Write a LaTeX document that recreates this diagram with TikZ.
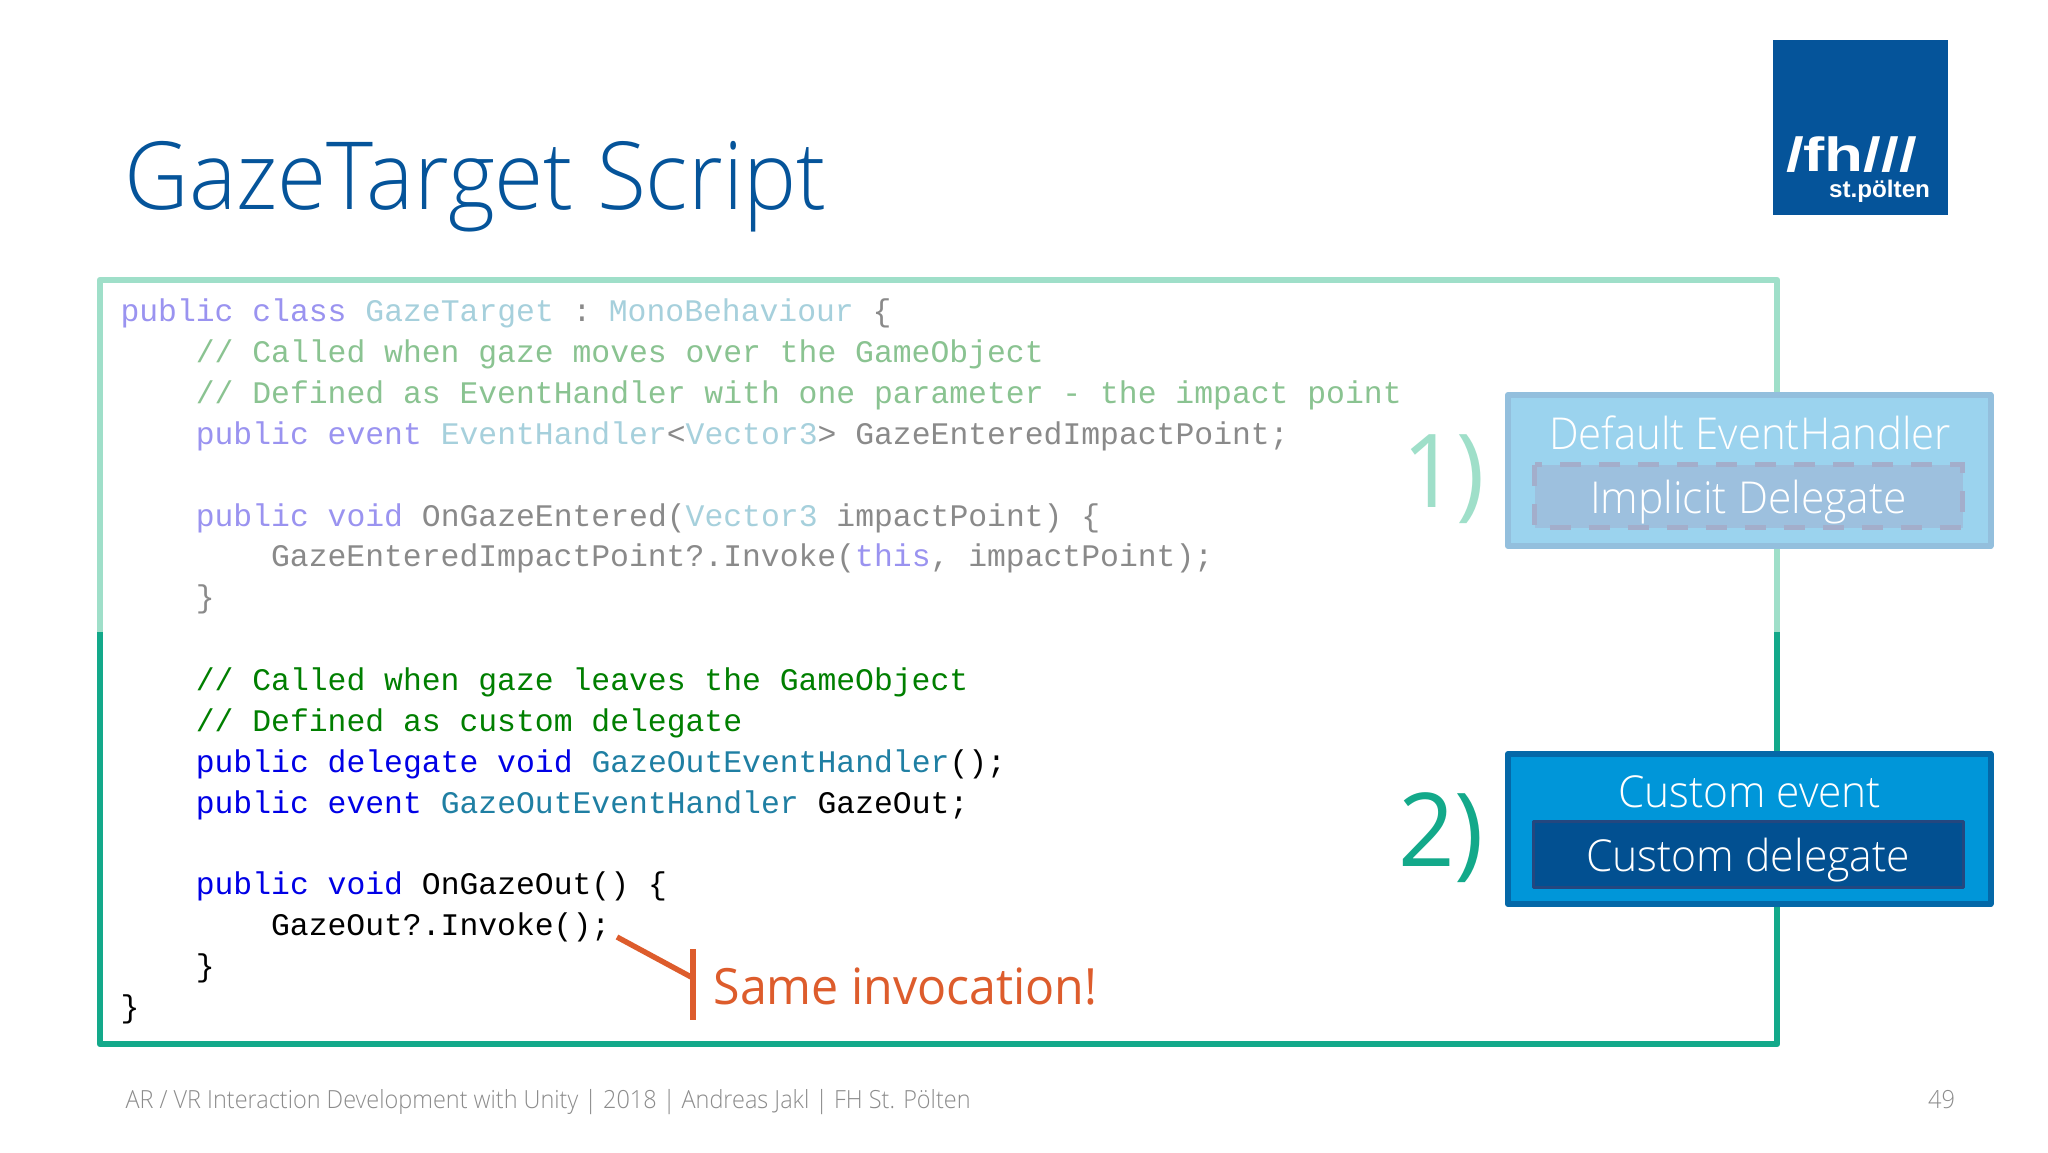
\documentclass[tikz,border=0pt]{standalone}
\usepackage{fontspec}
\usepackage{graphicx}
\setmainfont{Open Sans}
\newfontfamily\lightfont{Open Sans Light}
\newfontfamily\codefont{Liberation Mono}
\newfontfamily\logofont{Liberation Sans}[BoldFont=* Bold]
\definecolor{titleblue}{HTML}{05549A}
\definecolor{framelight}{HTML}{9FDFC9}
\definecolor{framedark}{HTML}{13A98A}
\definecolor{kwf}{HTML}{9A93F0}
\definecolor{tyf}{HTML}{A6D0DC}
\definecolor{cmf}{HTML}{8AC391}
\definecolor{plf}{HTML}{8A8A8A}
\definecolor{kwd}{HTML}{0000E6}
\definecolor{tyd}{HTML}{1F7FA3}
\definecolor{cmd}{HTML}{007F00}
\definecolor{pld}{HTML}{000000}
\definecolor{oneb}{HTML}{9BD3EE}
\definecolor{onebd}{HTML}{93BFDD}
\definecolor{onei}{HTML}{9DC0DE}
\definecolor{oneid}{HTML}{A3AECB}
\definecolor{twob}{HTML}{0096D9}
\definecolor{twobd}{HTML}{0468A8}
\definecolor{twoi}{HTML}{025091}
\definecolor{twoid}{HTML}{24477F}
\definecolor{callout}{HTML}{DD5C2C}
\definecolor{footgrey}{HTML}{8C8C8C}
\newcommand{\fit}[2]{\resizebox{#1pt}{\height}{#2}}
\newcommand{\kw}[1]{\textcolor{kwf}{#1}}
\newcommand{\ty}[1]{\textcolor{tyf}{#1}}
\newcommand{\cm}[1]{\textcolor{cmf}{#1}}
\newcommand{\kd}[1]{\textcolor{kwd}{#1}}
\newcommand{\td}[1]{\textcolor{tyd}{#1}}
\newcommand{\cd}[1]{\textcolor{cmd}{#1}}
\tikzset{
  txt/.style={anchor=base west,inner sep=0pt,outer sep=0pt},
  codeline/.style={txt,font=\codefont\fontsize{15.7pt}{15.7pt}\selectfont},
  faded/.style={codeline,text=plf},
  solid line/.style={codeline,text=pld},
  boxlabel/.style={txt,text=white,font=\lightfont\fontsize{22pt}{22pt}\selectfont},
  number/.style={txt,font=\fontsize{51pt}{51pt}\selectfont},
  footer/.style={txt,text=footgrey,font=\lightfont\fontsize{12.5pt}{12.5pt}\selectfont},
  frameline/.style={line width=3.2pt,line join=round},
  outerbox/.style={line width=3pt,line join=round},
  innerbox/.style={line width=1.6pt,line join=round},
}
\begin{document}
\begin{tikzpicture}[x=0.5pt,y=-0.5pt]
\useasboundingbox (0,0) rectangle (2048,1152);
\fill[white] (0,0) rectangle (2048,1152);
% logo
\fill[titleblue] (1773,40) rectangle (1948,215);
\node[txt,text=white,font=\logofont\bfseries\fontsize{24pt}{24pt}\selectfont] (logofh) at (1786,171) {\fit{65.5}{/fh///}};
\node[txt,text=white,font=\logofont\bfseries\fontsize{12pt}{12pt}\selectfont] (logost) at (1829,197.5) {\fit{50.5}{st.pölten}};
% title
\node[txt,text=titleblue,font=\lightfont\fontsize{47pt}{47pt}\selectfont] (title) at (124.5,209) {\fit{351}{GazeTarget Script}};
% frame
\coordinate (fl) at (100,632);
\coordinate (ftl) at (100,280);
\coordinate (ftr) at (1777,280);
\coordinate (fr) at (1777,632);
\coordinate (fbr) at (1777,1044);
\coordinate (fbl) at (100,1044);
\draw[frameline,framelight] (fl) -- (ftl) -- (ftr) -- (fr);
\draw[frameline,framedark] (fl) -- (fbl) -- (fbr) -- (fr);
% code
\def\xa{120.5}\def\xb{195.8}\def\xc{271.1}
\node[faded] (c1) at (\xa,321) {\kw{public class} \ty{GazeTarget} :\kern-3.9pt{} \ty{MonoBehaviour} \{};
\node[faded] (c2) at (\xb,362) {\cm{// Called when gaze moves over the GameObject}};
\node[faded] (c3) at (\xb,403) {\cm{// Defined as EventHandler with one parameter - the impact point}};
\node[faded] (c4) at (\xb,444) {\kw{public event} \ty{EventHandler}<\ty{Vector3}> GazeEnteredImpactPoint;};
\node[faded] (c6) at (\xb,526) {\kw{public void} OnGazeEntered(\ty{Vector3} impactPoint) \{};
\node[faded] (c7) at (\xc,566.5) {GazeEnteredImpactPoint?.Invoke(\kw{this}, impactPoint);};
\node[faded] (c8) at (\xb,607.5) {\}};
\node[solid line] (c10) at (\xb,690) {\cd{// Called when gaze leaves the GameObject}};
\node[solid line] (c11) at (\xb,731) {\cd{// Defined as custom delegate}};
\node[solid line] (c12) at (\xb,772) {\kd{public delegate void} \td{GazeOutEventHandler}();};
\node[solid line] (c13) at (\xb,813) {\kd{public event} \td{GazeOutEventHandler} GazeOut;};
\node[solid line] (c15) at (\xb,894.5) {\kd{public void} OnGazeOut() \{};
\node[solid line] (c16) at (\xc,935.5) {GazeOut?.Invoke();};
\node[solid line] (c17) at (\xb,976.5) {\}};
\node[solid line] (c18) at (\xa,1017.5) {\}};
% numbers
\node[number,text=framelight] (n1) at (1402,507) {\fit{41.5}{1)}};
\node[number,text=framedark] (n2) at (1398,866) {\fit{43}{2)}};
% box 1
\draw[outerbox,draw=onebd,fill=oneb] (1508,395) rectangle (1990.5,546);
\node[boxlabel] (b1a) at (1549,449.5) {\fit{201}{Default EventHandler}};
\draw[line width=2.5pt,draw=oneid,fill=onei,dash pattern=on 10.5pt off 9pt] (1534.5,464.5) rectangle (1962.5,527.5);
\node[boxlabel] (b1b) at (1590,513) {\fit{158.5}{Implicit Delegate}};
% box 2
\draw[outerbox,draw=twobd,fill=twob] (1508,754) rectangle (1990.5,904);
\node[boxlabel] (b2a) at (1618,807.5) {\fit{131.5}{Custom event}};
\draw[innerbox,draw=twoid,fill=twoi] (1533.5,821.5) rectangle (1963.5,887.5);
\node[boxlabel] (b2b) at (1586,871) {\fit{162}{Custom delegate}};
% callout
\coordinate (cs) at (617,937);
\coordinate (cm) at (693,978);
\coordinate (ct) at (693,949);
\coordinate (cb) at (693,1019.5);
\draw[callout,line width=2.7pt] (cs) -- (cm);
\draw[callout,line width=2.7pt] (ct) -- (cb);
\node[txt,text=callout,font=\fontsize{25pt}{25pt}\selectfont] (same) at (713.5,1004) {\fit{192}{Same invocation!}};
% footer
\node[footer] (foot) at (125.5,1108) {\fit{422.5}{AR / VR Interaction Development with Unity | 2018 | Andreas Jakl | FH St. Pölten}};
\node[footer] (page) at (1928,1108) {\fit{13.5}{49}};
\end{tikzpicture}
\end{document}
